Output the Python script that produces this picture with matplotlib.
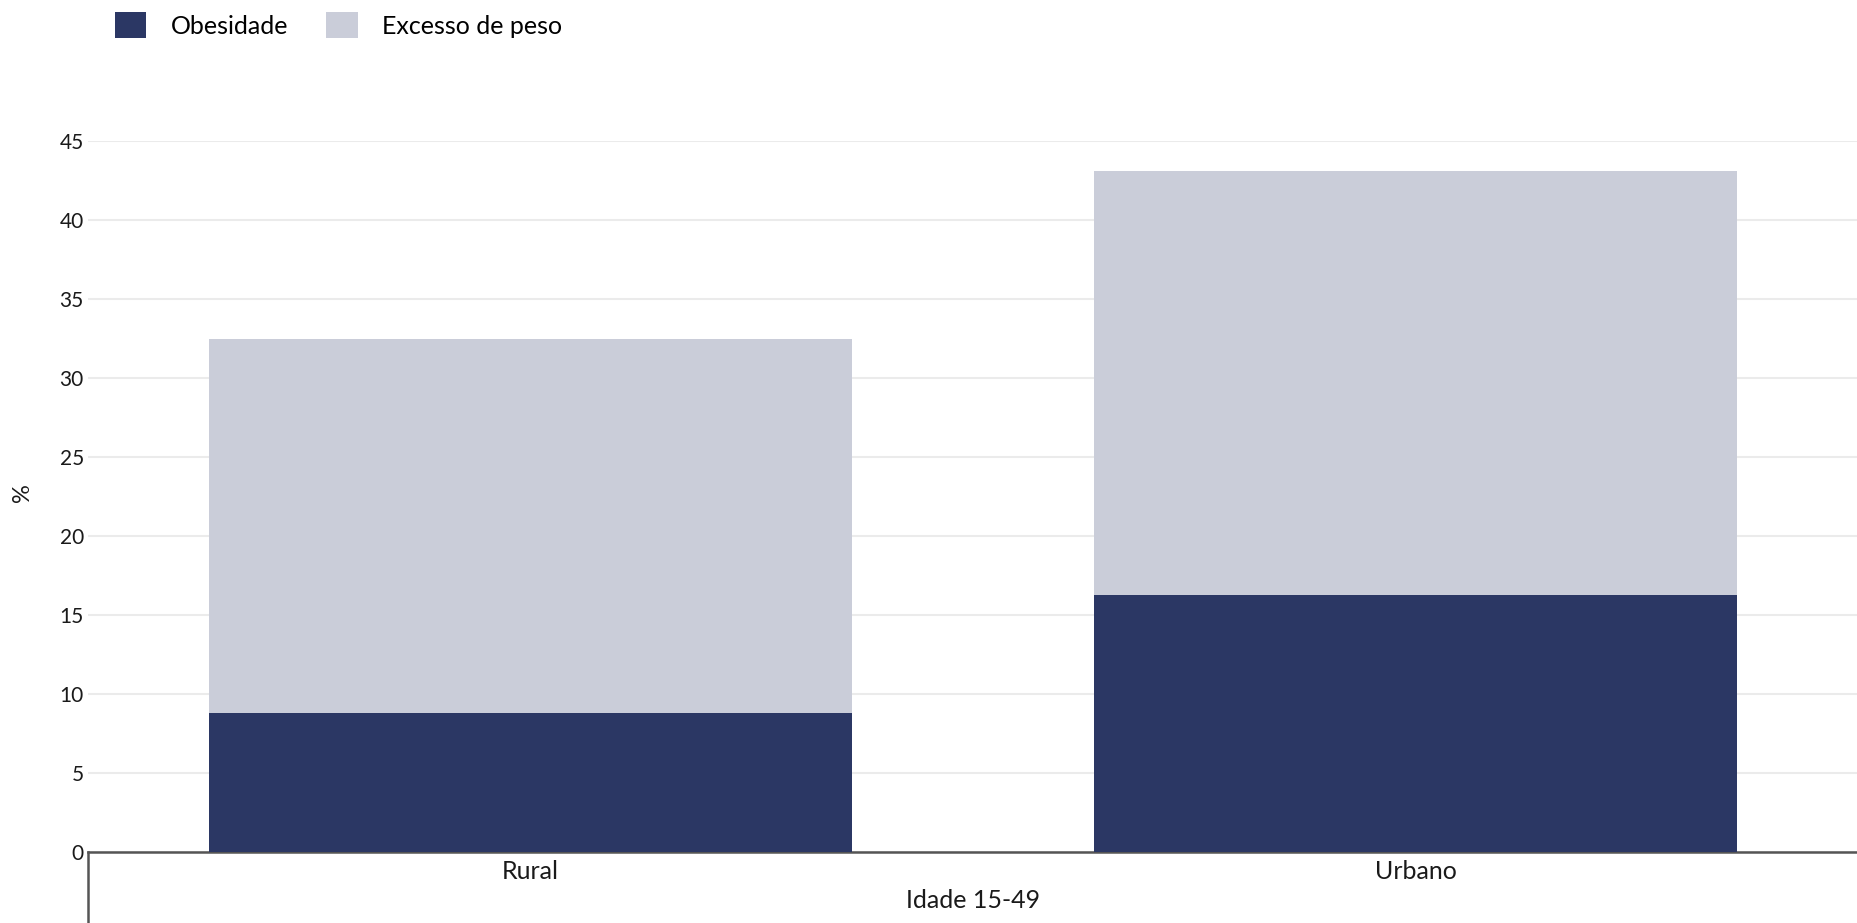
import numpy as np
import matplotlib
matplotlib.use("Agg")
import matplotlib.pyplot as plt
from matplotlib.patches import Patch
from matplotlib.lines import Line2D

# Donnees
categories = ["Rural", "Urbano"]
obesidade = [8.8, 16.25]
excesso_peso = [32.5, 43.1]
series_labels = ["Obesidade", "Excesso de peso"]
yticks = [0, 5, 10, 15, 20, 25, 30, 35, 40, 45]

# Couleurs et mise en page
col_dark = "#2b3764"
col_light = "#cacdd9"
bar_width = 0.727

plt.rcParams["font.family"] = ["Lato", "DejaVu Sans"]

W, H = 1858, 923
fig = plt.figure(figsize=(W / 100, H / 100), dpi=100)
ax = fig.add_axes([88 / W, 1 - 852 / H, 1 - 88 / W, (852 - 141) / H])

x = np.arange(len(categories))
ax.bar(x, excesso_peso, width=bar_width, color=col_light, zorder=2)
ax.bar(x, obesidade, width=bar_width, color=col_dark, zorder=3)

ax.set_xlim(-0.5, len(categories) - 0.5)
ax.set_ylim(0, 45)
ax.set_yticks(yticks)
ax.set_xticks(x)
ax.set_xticklabels(categories)
ax.tick_params(axis="y", length=0, pad=3, labelsize=15, labelcolor="#1a1a1a")
ax.tick_params(axis="x", length=0, pad=6, labelsize=18, labelcolor="#1a1a1a")
ax.grid(axis="y", color="#ebebeb", linewidth=1.5, zorder=0)
ax.set_axisbelow(True)
for s in ["top", "right", "left"]:
    ax.spines[s].set_visible(False)
ax.spines["bottom"].set_color("#555555")
ax.spines["bottom"].set_linewidth(1.8)
ax.spines["bottom"].set_zorder(1)

ax.set_xlabel("Idade 15-49", fontsize=18, color="#1a1a1a", labelpad=4)
fig.text(23 / W, 1 - 493 / H, "%", rotation=90, fontsize=17, ha="center", va="center", color="#1a1a1a")

# Ligne verticale sous l'axe
fig.add_artist(Line2D([88 / W, 88 / W], [0, 1 - 852 / H], transform=fig.transFigure, color="#555555", linewidth=1.8))

handles = [Patch(facecolor=col_dark), Patch(facecolor=col_light)]
fig.legend(handles, series_labels, loc="upper left", bbox_to_anchor=(105 / W, 1 - 2 / H),
           ncol=2, frameon=False, fontsize=18, handlelength=1.25, handleheight=1.25,
           handletextpad=1.0, columnspacing=1.5, borderaxespad=0)

fig.savefig("out.png", dpi=100)
